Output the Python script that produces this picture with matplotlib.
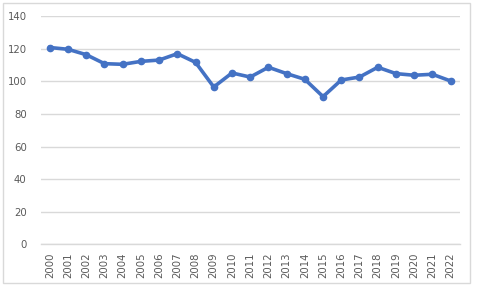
import matplotlib
matplotlib.use("Agg")
from matplotlib import pyplot as plt
from matplotlib.patches import Rectangle

# Data
years = [str(y) for y in range(2000, 2023)]
values = [120.7, 119.6, 116.3, 110.8, 110.4, 112.2, 113.0, 116.9, 111.6, 96.5,
          105.1, 102.6, 108.6, 104.7, 101.2, 90.6, 100.8, 102.6, 108.6, 104.7,
          103.7, 104.3, 100.2]
y_ticks = [0, 20, 40, 60, 80, 100, 120, 140]

line_color = "#4472C4"
grid_color = "#D9D9D9"
text_color = "#595959"

fig = plt.figure(figsize=(4.78, 2.90), dpi=100)
ax = fig.add_axes([0.0851, 0.1569, 0.8766, 0.7879])

# chart border
fig.patches.append(Rectangle((3 / 478, 1 - 283 / 290), 467 / 478, 280 / 290,
                             transform=fig.transFigure, fill=False,
                             edgecolor=grid_color, linewidth=1))

x = range(len(years))
ax.plot(x, values, color=line_color, linewidth=2.6, marker="o",
        markersize=4.5, zorder=3)

ax.set_xlim(-0.5, len(years) - 0.5)
ax.set_ylim(0, 140)
ax.set_yticks(y_ticks)
ax.set_xticks(list(x))
ax.set_xticklabels(years, rotation=90)

ax.grid(axis="y", color=grid_color, linewidth=1)
ax.set_axisbelow(True)
for side in ["top", "right", "left"]:
    ax.spines[side].set_visible(False)
ax.spines["bottom"].set_color(grid_color)
ax.spines["bottom"].set_linewidth(1)

ax.tick_params(axis="both", length=0, colors=text_color, labelsize=7.3)
ax.tick_params(axis="y", pad=10)
ax.tick_params(axis="x", pad=6)

fig.savefig("out.png", dpi=100)
